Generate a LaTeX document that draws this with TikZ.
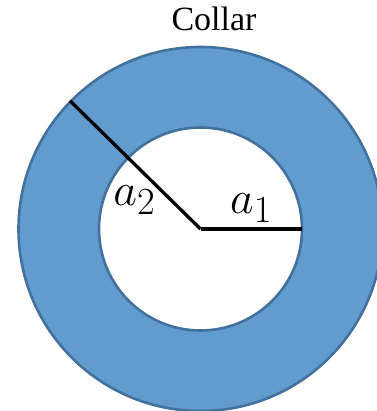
\documentclass[tikz,border=0pt]{standalone}
\usepackage{fontspec}
\usepackage{xcolor}
\newfontfamily\captionfont{Liberation Serif}
\definecolor{collarfill}{RGB}{98,156,207}
\definecolor{collaredge}{RGB}{66,113,157}
\begin{document}
\begin{tikzpicture}[x=1pt,y=1pt,radius line/.style={line width=3.3pt,black},lab/.style={inner sep=1pt,scale=1.85,font=\Huge}]
\useasboundingbox (0,0) rectangle (376,411);
\coordinate (O) at (200.5,182);
\draw[collaredge,line width=2.6pt,fill=collarfill] (O) circle[radius=182pt];
\draw[collaredge,line width=2.6pt,fill=white] (O) circle[radius=101.5pt];
\coordinate (A1) at ([shift={(0:101.5pt)}]O);
\coordinate (A2) at ([shift={(135.5:183pt)}]O);
\draw[radius line,line cap=butt] (O)--node[lab,above=1pt] {$a_1$} (A1);
\draw[radius line] (O)--(A2);
\node[lab] (L2) at ([shift={(-66,29)}]O) {$a_2$};
\node[anchor=base,inner sep=0pt,font=\captionfont\fontsize{34}{40}\selectfont] (title) at (214,380) {Collar};
\end{tikzpicture}
\end{document}
